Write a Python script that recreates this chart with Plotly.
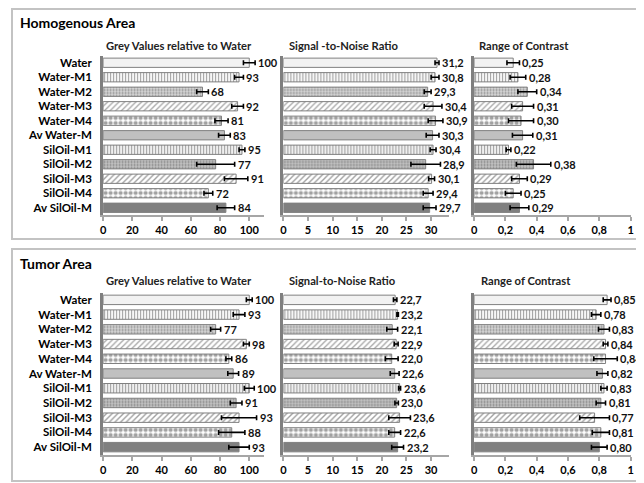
import plotly.graph_objects as go

categories = ["Water", "Water-M1", "Water-M2", "Water-M3", "Water-M4", "Av Water-M",
              "SilOil-M1", "SilOil-M2", "SilOil-M3", "SilOil-M4", "Av SilOil-M"]

homo_grey = [100, 93, 68, 92, 81, 83, 95, 77, 91, 72, 84]
homo_grey_err = [4, 3, 4, 4, 4.5, 4, 2, 13, 8, 3, 6]
homo_snr = [31.2, 30.8, 29.3, 30.4, 30.9, 30.3, 30.4, 28.9, 30.1, 29.4, 29.7]
homo_snr_err = [0.4, 0.8, 0.7, 1.8, 1.5, 1.3, 0.6, 3.0, 0.6, 1.0, 1.3]
homo_roc = [0.25, 0.28, 0.34, 0.31, 0.30, 0.31, 0.22, 0.38, 0.29, 0.25, 0.29]
homo_roc_err = [0.04, 0.05, 0.06, 0.07, 0.08, 0.065, 0.015, 0.11, 0.05, 0.05, 0.06]

tumor_grey = [100, 93, 77, 98, 86, 89, 100, 91, 93, 88, 93]
tumor_grey_err = [2, 4, 3.4, 2, 2, 3.7, 3.4, 4, 12, 9, 7]
tumor_snr = [22.7, 23.2, 22.1, 22.9, 22.0, 22.6, 23.6, 23.0, 23.6, 22.6, 23.2]
tumor_snr_err = [0.35, 0.15, 1.1, 0.4, 1.3, 0.9, 0.2, 0.35, 2.2, 1.2, 1.2]
tumor_roc = [0.85, 0.78, 0.83, 0.84, 0.84, 0.82, 0.83, 0.81, 0.77, 0.81, 0.80]
tumor_roc_err = [0.025, 0.03, 0.035, 0.015, 0.075, 0.035, 0.02, 0.03, 0.095, 0.055, 0.05]

panel_titles = ["Homogenous Area", "Tumor Area"]
metric_titles = [["Grey Values relative to Water", "Signal -to-Noise Ratio", "Range of Contrast"],
                 ["Grey Values relative to Water", "Signal-to-Noise Ratio", "Range of Contrast"]]

# styling
bg_colors = ["#f2f2f2", "#ffffff", "#d6d6d6", "#ffffff", "#ffffff", "#c0c0c0",
             "#ffffff", "#c4c4c4", "#ffffff", "#ffffff", "#808080"]
fg_colors = ["#f2f2f2", "#8a8a8a", "#a6a6a6", "#9a9a9a", "#b4b4b4", "#c0c0c0",
             "#6e6e6e", "#909090", "#808080", "#9a9a9a", "#808080"]
pat_shapes = ["", "|", ".", "/", ".", "", "|", ".", "/", ".", ""]
pat_sizes = [4, 3, 3, 4, 5, 4, 3, 3, 4, 5, 4]
pat_solid = [0.3, 0.4, 0.35, 0.3, 0.55, 0.3, 0.45, 0.35, 0.35, 0.55, 0.3]

# page has an 8px body margin: figure is placed at (8, 8)
OFF = 8
W, H = 644 - OFF, 483 - OFF
def fx(p): return (p - OFF) / W
def fy(p): return 1 - (p - OFF) / H

col_dom = [(101, 263.3), (283, 450), (475.5, 633.5)]
col_rng = [(0, 110), (0, 33.6), (0, 1.0001)]
col_dtick = [20, 5, 0.2]
col_dec = [0, 1, 2]
row_band = [(55.5, 215), (292.5, 454.5)]
row_title_y = [45.5, 280.7]
row_panel_y = [23, 263]
title_x = [[102, 287, 478], [102, 287, 480]]
boxes = [(9, 9, 641, 239), (9, 249, 641, 481)]

data = [[(homo_grey, homo_grey_err), (homo_snr, homo_snr_err), (homo_roc, homo_roc_err)],
        [(tumor_grey, tumor_grey_err), (tumor_snr, tumor_snr_err), (tumor_roc, tumor_roc_err)]]

FONT = "Lato"
fig = go.Figure()
annotations = []
shapes = []
layout_axes = {}

for r in range(2):
    x0, y0, x1, y1 = boxes[r]
    shapes.append(dict(type="rect", xref="paper", yref="paper", x0=fx(x0), x1=fx(x1),
                       y0=fy(y1), y1=fy(y0), line=dict(color="#c3c3c3", width=2),
                       fillcolor="rgba(0,0,0,0)", layer="below"))
    annotations.append(dict(text=panel_titles[r], xref="paper", yref="paper", x=fx(15),
                            y=fy(row_panel_y[r]), xanchor="left", yanchor="middle", showarrow=False,
                            font=dict(family=FONT, size=14, color="#000000", weight="bold")))
    for c in range(3):
        idx = r * 3 + c + 1
        xa = "x" if idx == 1 else f"x{idx}"
        ya = "y" if idx == 1 else f"y{idx}"
        vals, errs = data[r][c]
        fig.add_trace(go.Bar(
            x=vals, y=categories, orientation="h", xaxis=xa, yaxis=ya, width=0.64,
            marker=dict(color=bg_colors, line=dict(color="#808080", width=1),
                        pattern=dict(shape=pat_shapes, fgcolor=fg_colors, bgcolor=bg_colors,
                                     size=pat_sizes, solidity=pat_solid, fillmode="overlay")),
            error_x=dict(type="data", array=errs, visible=True, color="#000000",
                         thickness=1.6, width=2.5),
            showlegend=False, hoverinfo="skip"))
        dec = col_dec[c]
        for cat, v, e in zip(categories, vals, errs):
            txt = f"{v:.{dec}f}".replace(".", ",")
            annotations.append(dict(text=txt, x=v + e, y=cat, xref=xa, yref=ya,
                                    xanchor="left", yanchor="middle", xshift=1, showarrow=False,
                                    font=dict(family=FONT, size=11, color="#111111", weight="bold")))
        annotations.append(dict(text=metric_titles[r][c], xref="paper", yref="paper",
                                x=fx(title_x[r][c]), y=fy(row_title_y[r]), xanchor="left",
                                yanchor="middle", showarrow=False,
                                font=dict(family=FONT, size=11.2, color="#222222", weight="bold")))
        xkey = "xaxis" if idx == 1 else f"xaxis{idx}"
        ykey = "yaxis" if idx == 1 else f"yaxis{idx}"
        b0, b1 = row_band[r]
        layout_axes[xkey] = dict(domain=[fx(col_dom[c][0]), fx(col_dom[c][1])],
                                 range=list(col_rng[c]), dtick=col_dtick[c], tick0=0,
                                 anchor=ya, showgrid=False, zeroline=False,
                                 showline=True, linecolor="#a6a6a6", linewidth=2,
                                 ticks="outside", ticklen=4, tickcolor="#a6a6a6", tickwidth=2,
                                 tickfont=dict(family=FONT, size=11, color="#000000", weight="bold"),
                                 fixedrange=True)
        layout_axes[ykey] = dict(domain=[fy(b1), fy(b0)], anchor=xa, type="category",
                                 categoryorder="array", categoryarray=categories,
                                 range=[10.5, -0.5], showgrid=False, zeroline=False,
                                 showline=True, linecolor="#7f7f7f", linewidth=3,
                                 showticklabels=(c == 0), ticks="", ticklabelstandoff=6,
                                 tickfont=dict(family=FONT, size=11.5, color="#000000", weight="bold"),
                                 fixedrange=True)

fig.update_layout(width=W, height=H, margin=dict(l=0, r=0, t=0, b=0),
                  paper_bgcolor="white", plot_bgcolor="rgba(0,0,0,0)",
                  separators=", ", bargap=0.36,
                  annotations=annotations, shapes=shapes, **layout_axes)
fig.write_html("out.html")
